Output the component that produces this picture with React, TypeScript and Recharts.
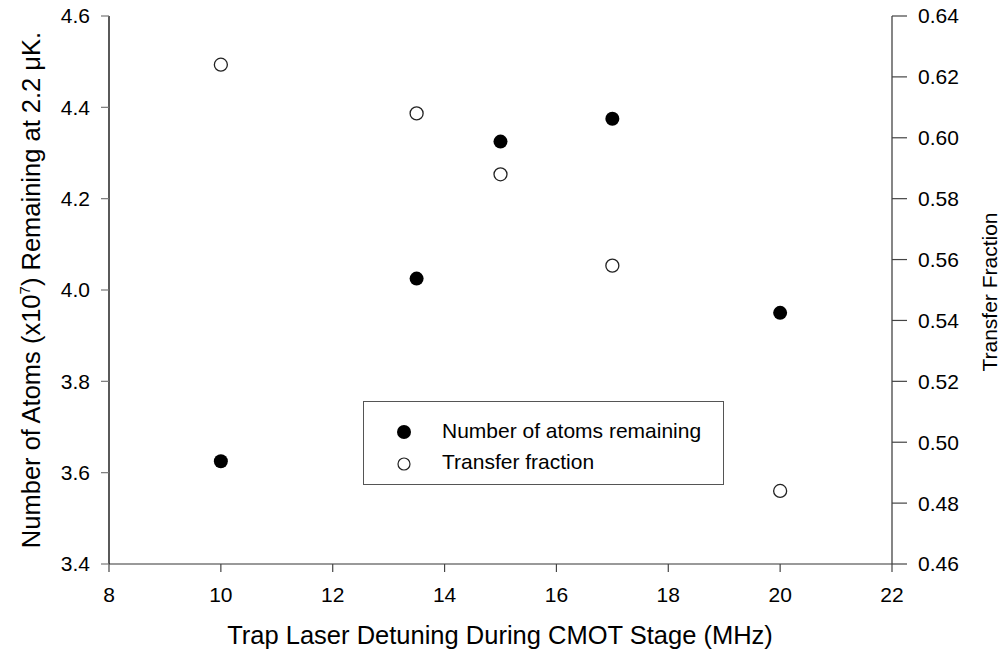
import { Legend, Scatter, ScatterChart, XAxis, YAxis } from 'recharts'

const detuning = [10, 13.5, 15, 17, 20]
const atomsRemaining = [3.625, 4.025, 4.325, 4.375, 3.95]
const transferFraction = [0.624, 0.608, 0.588, 0.558, 0.484]

const xTicks = [8, 10, 12, 14, 16, 18, 20, 22]
const leftTicks = [3.4, 3.6, 3.8, 4.0, 4.2, 4.4, 4.6]
const rightTicks = [0.46, 0.48, 0.5, 0.52, 0.54, 0.56, 0.58, 0.6, 0.62, 0.64]

const FONT = "'Liberation Sans', Arial, Helvetica, sans-serif"

const atomData = detuning.map((x, i) => ({ x, y: atomsRemaining[i] }))
const transferData = detuning.map((x, i) => ({ x, y: transferFraction[i] }))

const tickStyle = { fontSize: 21, fill: '#000', fontFamily: FONT }

// eslint-disable-next-line @typescript-eslint/no-explicit-any
const FilledDot = (p: any) => <circle cx={p.cx} cy={p.cy} r={7} fill="#000" />
// eslint-disable-next-line @typescript-eslint/no-explicit-any
const OpenDot = (p: any) => (
  <circle cx={p.cx} cy={p.cy} r={6.5} fill="#fff" stroke="#222" strokeWidth={1.3} />
)

function LegendBox() {
  return (
    <div
      style={{
        position: 'relative',
        width: 361,
        height: 84,
        boxSizing: 'border-box',
        border: '1px solid #555',
        background: '#fff',
        fontFamily: FONT,
        fontSize: 21,
        color: '#000',
      }}
    >
      <svg width={20} height={20} style={{ position: 'absolute', left: 30, top: 20 }}>
        <circle cx={10} cy={10} r={7} fill="#000" />
      </svg>
      <span style={{ position: 'absolute', left: 78, top: 17, lineHeight: '24px', whiteSpace: 'nowrap' }}>
        Number of atoms remaining
      </span>
      <svg width={20} height={20} style={{ position: 'absolute', left: 30, top: 52 }}>
        <circle cx={10} cy={10} r={6} fill="#fff" stroke="#222" strokeWidth={1.2} />
      </svg>
      <span style={{ position: 'absolute', left: 78, top: 48, lineHeight: '24px', whiteSpace: 'nowrap' }}>
        Transfer fraction
      </span>
    </div>
  )
}

export default function App() {
  return (
    <div style={{ position: 'absolute', left: 0, top: 0, background: '#fff' }}>
      <ScatterChart
        width={1003}
        height={655}
        margin={{ top: 16, right: 0, bottom: 0, left: 0 }}
        style={{ fontFamily: FONT }}
      >
        <XAxis
          xAxisId="top"
          orientation="top"
          type="number"
          domain={[8, 22]}
          height={0}
          tick={false}
          tickLine={false}
          axisLine={{ stroke: '#000', strokeWidth: 1.3 }}
        />
        <XAxis
          dataKey="x"
          type="number"
          domain={[8, 22]}
          ticks={xTicks}
          interval={0}
          height={91}
          tickSize={8}
          tickMargin={15}
          tick={tickStyle}
          axisLine={{ stroke: '#777', strokeWidth: 1.3 }}
          tickLine={{ stroke: '#444', strokeWidth: 1.2 }}
          label={{
            content: () => (
              <text x={500} y={644} textAnchor="middle" fontSize={25.5} fontFamily={FONT} fill="#000">
                Trap Laser Detuning During CMOT Stage (MHz)
              </text>
            ),
          }}
        />
        <YAxis
          yAxisId="left"
          dataKey="y"
          type="number"
          domain={[3.4, 4.6]}
          ticks={leftTicks}
          interval={0}
          width={109}
          tickSize={8}
          tickMargin={11}
          tick={tickStyle}
          tickFormatter={(v: number) => v.toFixed(1)}
          axisLine={{ stroke: '#000', strokeWidth: 1.3 }}
          tickLine={{ stroke: '#777', strokeWidth: 1.2 }}
          label={{
            content: () => (
              <text
                x={40}
                y={290}
                transform="rotate(-90, 40, 290)"
                textAnchor="middle"
                fontSize={25.5}
                fontFamily={FONT}
                fill="#000"
              >
                Number of Atoms (x10
                <tspan dy={-10} fontSize={15}>
                  7
                </tspan>
                <tspan dy={10}>) Remaining at 2.2 μK.</tspan>
              </text>
            ),
          }}
        />
        <YAxis
          yAxisId="right"
          orientation="right"
          dataKey="y"
          type="number"
          domain={[0.46, 0.64]}
          ticks={rightTicks}
          interval={0}
          width={111}
          tickSize={15}
          tickMargin={11}
          tick={tickStyle}
          tickFormatter={(v: number) => v.toFixed(2)}
          axisLine={{ stroke: '#444', strokeWidth: 1.3 }}
          tickLine={{ stroke: '#444', strokeWidth: 1.2 }}
          label={{
            content: () => (
              <text
                x={997}
                y={292}
                transform="rotate(-90, 997, 292)"
                textAnchor="middle"
                fontSize={21}
                fontFamily={FONT}
                fill="#000"
              >
                Transfer Fraction
              </text>
            ),
          }}
        />
        <Scatter
          name="Number of atoms remaining"
          data={atomData}
          yAxisId="left"
          shape={FilledDot}
          isAnimationActive={false}
        />
        <Scatter
          name="Transfer fraction"
          data={transferData}
          yAxisId="right"
          shape={OpenDot}
          isAnimationActive={false}
        />
        <Legend
          layout="vertical"
          align="center"
          verticalAlign="middle"
          wrapperStyle={{ left: 363, top: 401, width: 361, height: 84 }}
          content={() => <LegendBox />}
        />
      </ScatterChart>
    </div>
  )
}
